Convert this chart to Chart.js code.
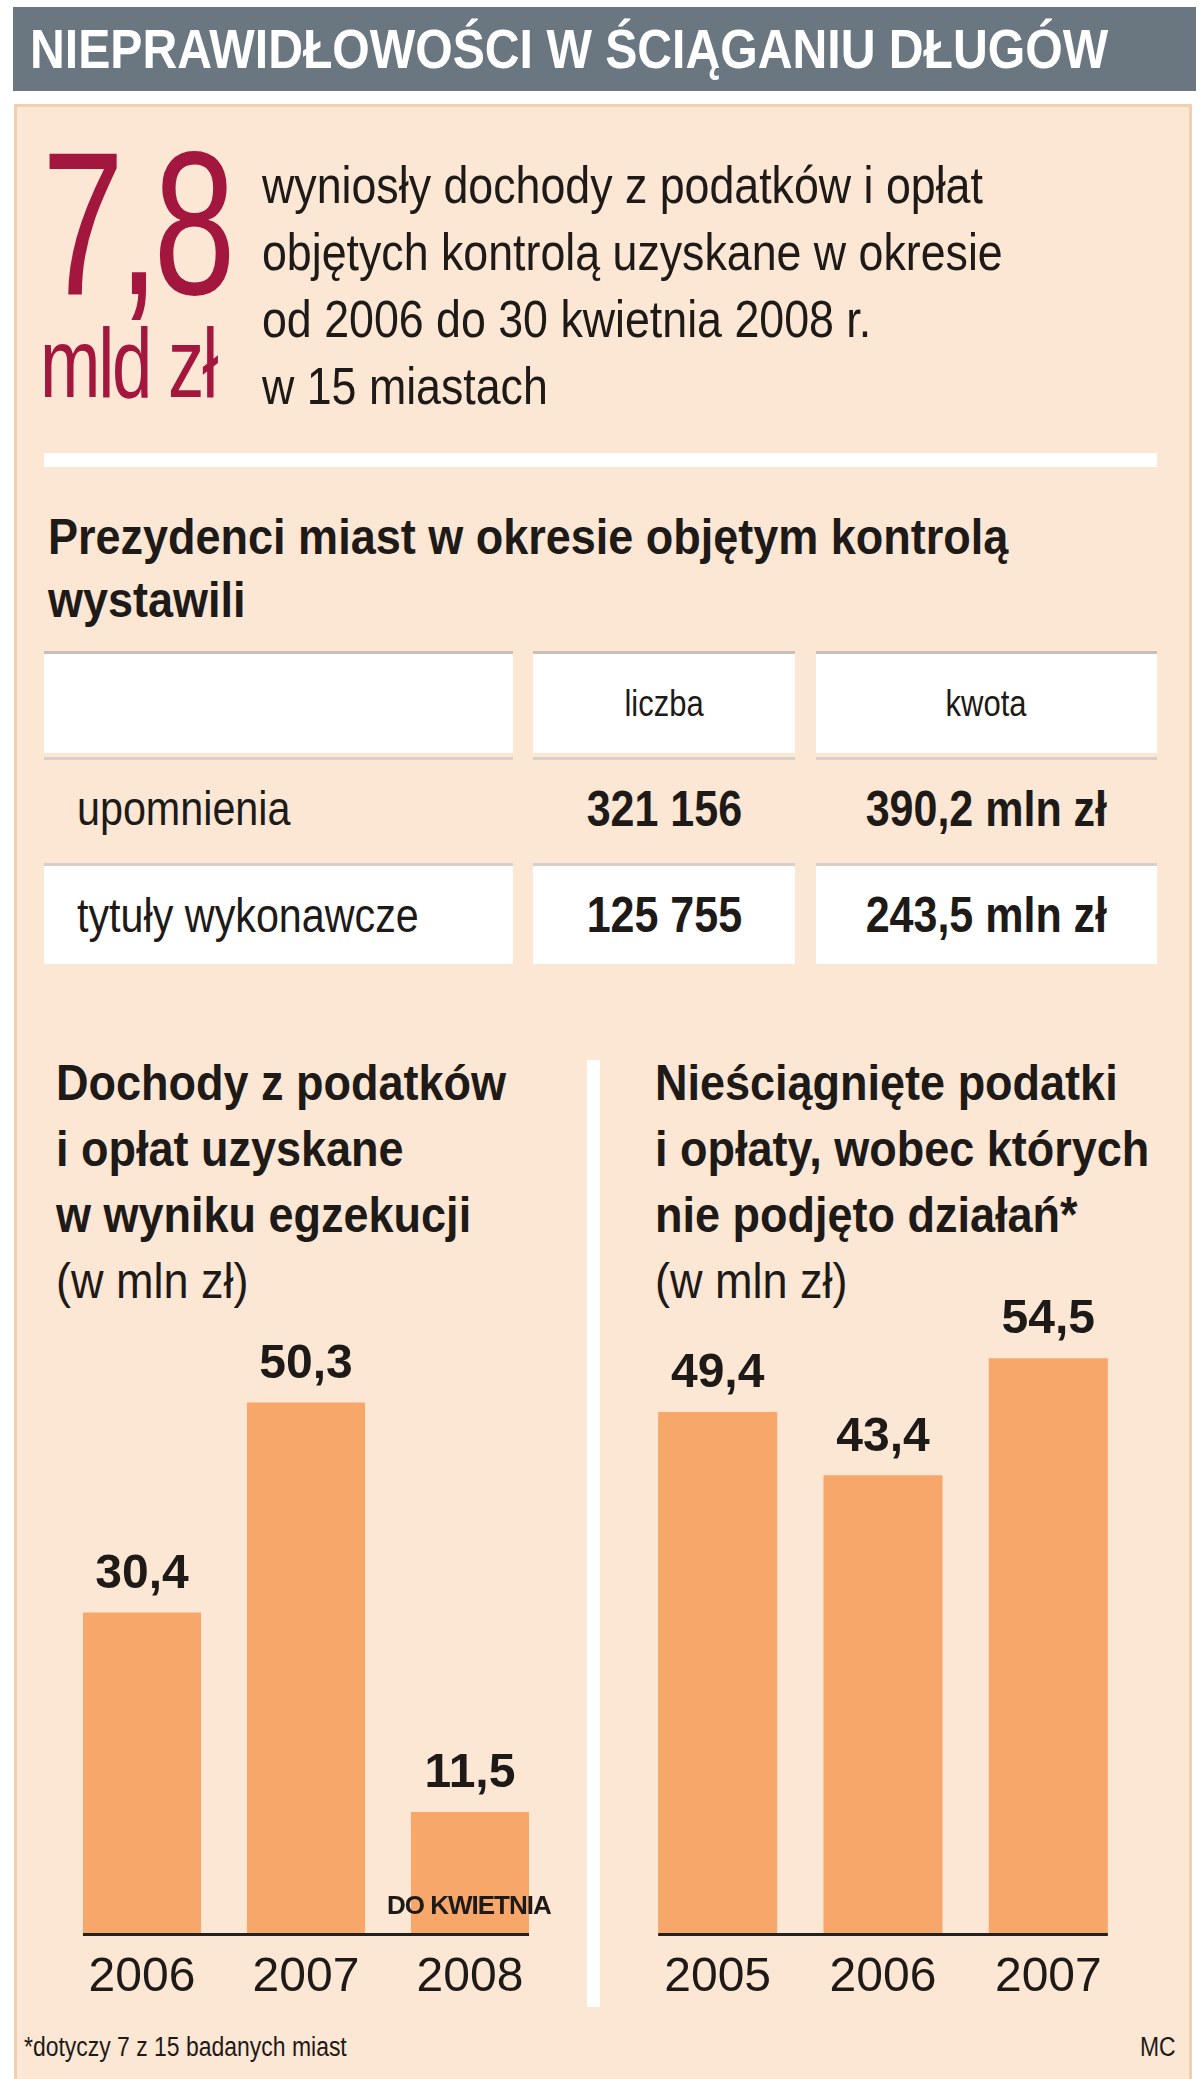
<!DOCTYPE html>
<html><head><meta charset="utf-8">
<script src="https://cdn.jsdelivr.net/npm/chart.js@4"></script>
<style>
body{margin:0;width:1200px;height:2079px;background:#fff;position:relative;font-family:"Liberation Sans",sans-serif;color:#1e1a18;overflow:hidden}
.a{position:absolute;white-space:nowrap;transform-origin:left top}
#title{left:13px;top:7px;width:1183px;height:84px;background:#6a7780}
#panel{left:14px;top:104px;width:1178px;height:1990px;background:#fce6d4;border:3px solid #f3cfb2;box-sizing:border-box}
.t{font-size:52px}
.b{font-weight:bold}
.cell{position:absolute;box-sizing:border-box;border-top:3px solid #c9bfb8;display:flex;align-items:center}
canvas{position:absolute}
</style></head><body>
<div id="title" class="a"></div>
<div class="a b" style="left:30px;top:7px;color:#fff;font-size:56px;line-height:84px;transform:scaleX(0.86)">NIEPRAWIDŁOWOŚCI W ŚCIĄGANIU DŁUGÓW</div>
<div id="panel" class="a"></div>
<div class="a" style="left:42px;top:120px;font-size:205px;color:#a3163e;line-height:205px;letter-spacing:-8px;transform:scaleX(0.72)">7,8</div>
<div class="a" style="left:40px;top:313px;font-size:98px;color:#a3163e;line-height:100px;letter-spacing:-3px;transform:scaleX(0.74)">mld zł</div>
<div class="a t" style="left:262px;top:152px;line-height:67px;transform:scaleX(0.86)">wyniosły dochody z podatków i opłat<br>objętych kontrolą uzyskane w okresie<br>od 2006 do 30 kwietnia 2008 r.<br>w 15 miastach</div>
<div class="a" style="left:44px;top:453px;width:1113px;height:14px;background:#fff"></div>
<div class="a t b" style="left:48px;top:506px;line-height:63px;font-size:50px;transform:scaleX(0.9)">Prezydenci miast w okresie objętym kontrolą<br>wystawili</div>

<div id="tbl"></div>

<div class="a b" style="left:56px;top:1050px;line-height:66px;font-size:50px;transform:scaleX(0.9)">Dochody z podatków<br>i opłat uzyskane<br>w wyniku egzekucji<br><span style="font-weight:normal">(w mln zł)</span></div>
<div class="a b" style="left:655px;top:1050px;line-height:66px;font-size:50px;transform:scaleX(0.9)">Nieściągnięte podatki<br>i opłaty, wobec których<br>nie podjęto działań*<br><span style="font-weight:normal">(w mln zł)</span></div>
<div class="a" style="left:587px;top:1060px;width:13px;height:947px;background:#fff"></div>

<canvas id="c1" style="left:60px;top:1260px"></canvas>
<canvas id="c2" style="left:635px;top:1260px"></canvas>

<div class="a b" style="left:387px;top:1890px;font-size:26px;width:160px;text-align:center;z-index:5;letter-spacing:-1px">DO KWIETNIA</div>
<div class="a" style="left:24px;top:2032px;font-size:27px;transform:scaleX(0.85)">*dotyczy 7 z 15 badanych miast</div>
<div class="a" style="left:1140px;top:2032px;font-size:27px;transform:scaleX(0.85)">MC</div>

<script>
const rowLabels=["upomnienia","tytuły wykonawcze"];
const colHeads=["liczba","kwota"];
const counts=["321 156","125 755"];
const amounts=["390,2 mln zł","243,5 mln zł"];
const years1=["2006","2007","2008"];
const values1=[30.4,50.3,11.5];
const years2=["2005","2006","2007"];
const values2=[49.4,43.4,54.5];

const tbl=document.getElementById('tbl');
const cols=[[44,513],[533,795],[816,1157]];
const rows=[[651,753],[757,857],[863,964]];
const bgs=["#fff","#fce6d4","#fff"];
function cell(r,c,txt,opts){
  const d=document.createElement('div');d.className='cell';
  d.style.left=cols[c][0]+'px';d.style.width=(cols[c][1]-cols[c][0])+'px';
  d.style.top=rows[r][0]+'px';d.style.height=(rows[r][1]-rows[r][0])+'px';
  d.style.background=bgs[r];
  if(r>0)d.style.borderTop='3px solid #d9cfc8';
  Object.assign(d.style,opts||{});
  const s=document.createElement('span');s.textContent=txt;s.style.display='inline-block';s.style.transform='scaleX(0.86)';
  s.style.transformOrigin=(opts&&opts.justifyContent==='center')?'center':'left';
  d.appendChild(s);tbl.appendChild(d);
}
cell(0,0,"");
cell(0,1,colHeads[0],{justifyContent:'center',fontSize:'36px'});
cell(0,2,colHeads[1],{justifyContent:'center',fontSize:'36px'});
for(let i=0;i<2;i++){
  cell(i+1,0,rowLabels[i],{paddingLeft:'33px',fontSize:'48px'});
  cell(i+1,1,counts[i],{justifyContent:'center',fontSize:'50px',fontWeight:'bold'});
  cell(i+1,2,amounts[i],{justifyContent:'center',fontSize:'50px',fontWeight:'bold'});
}

const FONT='"Liberation Sans",sans-serif';
const valPlugin={id:'vals',afterDatasetsDraw(ch){
  const ctx=ch.ctx,meta=ch.getDatasetMeta(0);
  ctx.save();ctx.fillStyle='#1e1a18';ctx.font='bold 48px '+FONT;ctx.textAlign='center';ctx.textBaseline='bottom';
  meta.data.forEach((b,i)=>ctx.fillText(String(ch.data.datasets[0].data[i]).replace('.',','),b.x,b.y-14));
  const f=meta.data[0],l=meta.data[meta.data.length-1];
  ctx.strokeStyle='#222';ctx.lineWidth=3;ctx.beginPath();
  ctx.moveTo(f.x-f.width/2,ch.chartArea.bottom+1);ctx.lineTo(l.x+l.width/2,ch.chartArea.bottom+1);ctx.stroke();
  ctx.restore();
}};
function mk(id,labels,data){
  new Chart(document.getElementById(id),{type:'bar',
    data:{labels,datasets:[{data,backgroundColor:'#f7a76a',barPercentage:0.72,categoryPercentage:1}]},
    options:{responsive:false,animation:false,devicePixelRatio:1,
      layout:{padding:0},
      plugins:{legend:{display:false},tooltip:{enabled:false}},
      scales:{y:{display:false,min:0,max:63.8},
        x:{grid:{display:false},border:{display:false},ticks:{color:'#1e1a18',font:{size:48,family:FONT},padding:8}}}},
    plugins:[valPlugin]});
}
const c1=document.getElementById('c1');c1.width=492;c1.height=755;
const c2=document.getElementById('c2');c2.width=496;c2.height=755;
mk('c1',years1,values1);mk('c2',years2,values2);
</script>
</body></html>
